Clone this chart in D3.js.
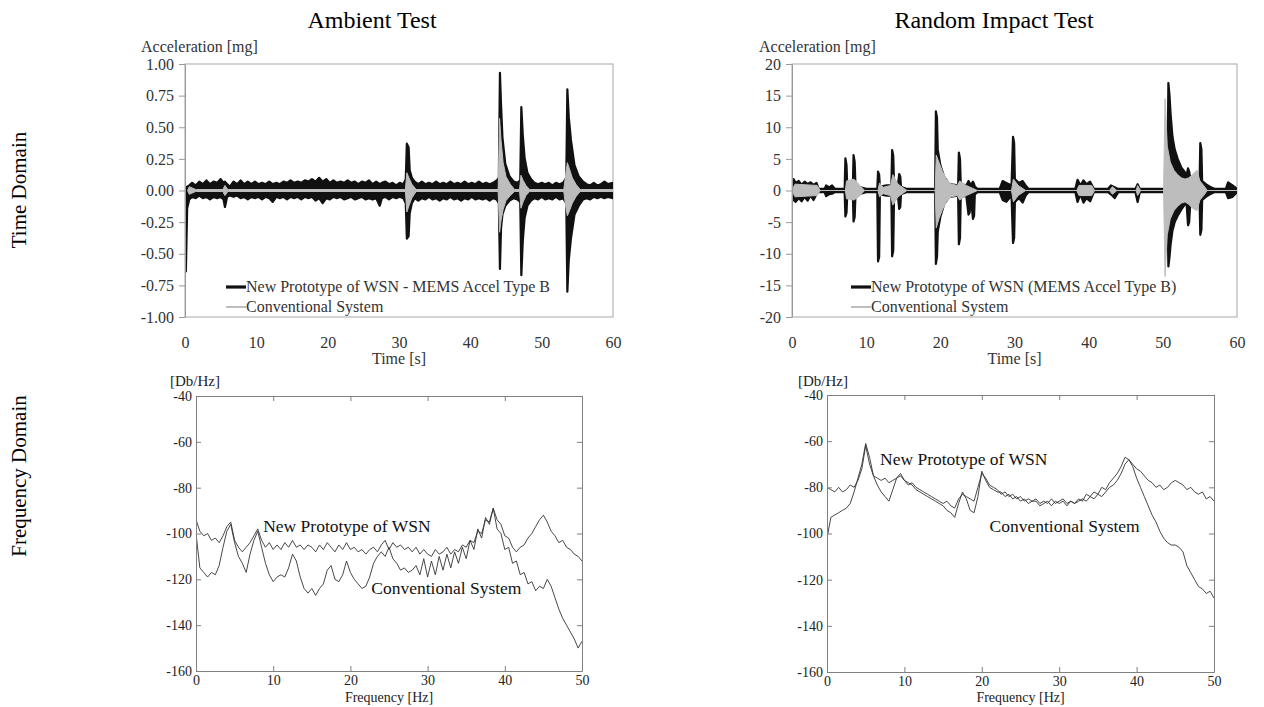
<!DOCTYPE html>
<html>
<head>
<meta charset="utf-8">
<script src="https://cdn.jsdelivr.net/npm/d3@7"></script>
<style>
  body { margin: 0; background: #fff; }
  svg { display: block; }
  text { font-family: "Liberation Serif", "Times New Roman", serif; }
</style>
</head>
<body>
<div id="chart"></div>
<script>
// ---- data ----
// time-domain signals are dense, so they are kept as envelopes: [time s, max, min]
const ambientWsn = [
  [0, 0.03, -0.05], [0.12, 0.02, -0.64], [0.3, 0.03, -0.14], [0.6, 0.04, -0.07], [1.0, 0.06, -0.05],
  [1.5, 0.04, -0.06], [2.0, 0.07, -0.04], [2.5, 0.05, -0.06], [3.0, 0.08, -0.05], [3.5, 0.05, -0.07],
  [4.0, 0.07, -0.05], [4.5, 0.06, -0.06], [5.0, 0.09, -0.05], [5.4, 0.06, -0.07], [5.6, 0.07, -0.13],
  [5.9, 0.05, -0.05], [6.3, 0.03, -0.04], [6.8, 0.07, -0.05], [7.3, 0.05, -0.04], [7.8, 0.08, -0.06],
  [8.3, 0.05, -0.05], [8.8, 0.07, -0.07], [9.3, 0.05, -0.05], [9.8, 0.07, -0.06], [10.3, 0.05, -0.05],
  [10.8, 0.06, -0.07], [11.3, 0.05, -0.05], [11.8, 0.07, -0.06], [12.3, 0.05, -0.09], [12.8, 0.06, -0.05],
  [13.3, 0.05, -0.06], [13.8, 0.07, -0.05], [14.3, 0.06, -0.07], [14.8, 0.08, -0.05], [15.3, 0.06, -0.06],
  [15.8, 0.07, -0.05], [16.3, 0.06, -0.07], [16.8, 0.08, -0.05], [17.3, 0.07, -0.06], [17.8, 0.09, -0.05],
  [18.3, 0.07, -0.08], [18.8, 0.10, -0.06], [19.3, 0.07, -0.10], [19.8, 0.09, -0.06], [20.3, 0.06, -0.07],
  [20.8, 0.08, -0.05], [21.3, 0.06, -0.06], [21.8, 0.07, -0.05], [22.3, 0.06, -0.07], [22.8, 0.08, -0.06],
  [23.3, 0.06, -0.05], [23.8, 0.07, -0.07], [24.3, 0.05, -0.06], [24.8, 0.07, -0.05], [25.3, 0.06, -0.07],
  [25.8, 0.08, -0.06], [26.3, 0.05, -0.07], [26.8, 0.07, -0.06], [27.3, 0.05, -0.12], [27.6, 0.06, -0.06],
  [28.1, 0.07, -0.05], [28.6, 0.05, -0.07], [29.1, 0.06, -0.05], [29.6, 0.04, -0.06], [30.1, 0.06, -0.05],
  [30.6, 0.05, -0.06], [30.95, 0.09, -0.10], [31.1, 0.37, -0.38], [31.35, 0.34, -0.36], [31.5, 0.16, -0.18],
  [31.8, 0.10, -0.10], [32.2, 0.07, -0.06], [32.7, 0.05, -0.08], [33.2, 0.07, -0.06], [33.7, 0.05, -0.07],
  [34.2, 0.06, -0.05], [34.7, 0.05, -0.07], [35.2, 0.07, -0.06], [35.7, 0.05, -0.08], [36.2, 0.06, -0.06],
  [36.7, 0.05, -0.07], [37.2, 0.07, -0.05], [37.7, 0.05, -0.07], [38.2, 0.06, -0.06], [38.7, 0.05, -0.08],
  [39.2, 0.07, -0.06], [39.7, 0.05, -0.07], [40.2, 0.06, -0.05], [40.7, 0.05, -0.07], [41.2, 0.07, -0.06],
  [41.7, 0.05, -0.07], [42.2, 0.06, -0.06], [42.7, 0.05, -0.08], [43.2, 0.06, -0.06], [43.7, 0.08, -0.07],
  [44.0, 0.10, -0.10], [44.15, 0.93, -0.62], [44.3, 0.68, -0.30], [44.5, 0.42, -0.19], [44.9, 0.21, -0.12],
  [45.5, 0.11, -0.08], [46.1, 0.07, -0.06], [46.6, 0.06, -0.07], [47.0, 0.08, -0.09], [47.15, 0.66, -0.67],
  [47.35, 0.44, -0.40], [47.6, 0.26, -0.22], [48.0, 0.14, -0.12], [48.5, 0.09, -0.08], [49.0, 0.06, -0.06],
  [49.5, 0.05, -0.07], [50.0, 0.06, -0.05], [50.5, 0.05, -0.07], [51.0, 0.06, -0.06], [51.5, 0.04, -0.07],
  [52.0, 0.06, -0.05], [52.5, 0.05, -0.07], [53.0, 0.06, -0.06], [53.45, 0.10, -0.10], [53.6, 0.80, -0.80],
  [53.8, 0.58, -0.55], [54.1, 0.40, -0.38], [54.6, 0.20, -0.19], [55.2, 0.11, -0.12], [55.8, 0.07, -0.07],
  [56.3, 0.05, -0.06], [56.8, 0.04, -0.07], [57.3, 0.06, -0.05], [57.8, 0.04, -0.06], [58.3, 0.05, -0.05],
  [58.8, 0.07, -0.06], [59.3, 0.05, -0.05], [60.0, 0.06, -0.06]
];
const ambientConv = [
  [0.4, 0.005, -0.005], [0.6, 0.03, -0.03], [1.5, 0.008, -0.008], [5.3, 0.008, -0.008], [5.6, 0.04, -0.04],
  [6.0, 0.008, -0.008], [30.9, 0.008, -0.008], [31.1, 0.14, -0.17], [31.4, 0.10, -0.12], [31.8, 0.05, -0.06],
  [32.4, 0.008, -0.008], [43.9, 0.008, -0.008], [44.1, 0.57, -0.33], [44.3, 0.40, -0.24], [44.6, 0.22, -0.15],
  [45.0, 0.11, -0.08], [45.6, 0.05, -0.04], [46.2, 0.008, -0.008], [46.9, 0.008, -0.008], [47.1, 0.12, -0.14],
  [47.4, 0.08, -0.09], [47.8, 0.04, -0.04], [48.3, 0.008, -0.008], [53.1, 0.008, -0.008], [53.35, 0.12, -0.12],
  [53.6, 0.22, -0.20], [53.9, 0.17, -0.16], [54.3, 0.10, -0.10], [54.8, 0.05, -0.05], [55.4, 0.008, -0.008],
  [60, 0.008, -0.008]
];
const impactWsn = [
  [0, 0.25, -0.25], [0.2, 1.8, -1.5], [0.5, 1.2, -1.8], [0.9, 1.5, -1.2], [1.3, 0.9, -1.7],
  [1.7, 1.4, -1.0], [2.1, 1.0, -1.6], [2.5, 1.3, -0.8], [2.9, 0.9, -1.5], [3.3, 1.2, -0.6],
  [3.6, 0.25, -0.25], [4.4, 0.25, -0.25], [4.6, 0.8, -0.9], [5.0, 0.5, -0.6], [5.4, 0.8, -0.5],
  [5.8, 0.25, -0.25], [7.1, 0.25, -0.25], [7.2, 5.1, -4.1], [7.35, 4.0, -3.5], [7.45, 0.8, -0.7],
  [8.2, 0.6, -0.6], [8.3, 5.6, -4.9], [8.45, 4.5, -4.2], [8.55, 1.0, -1.0], [9.0, 0.6, -0.6],
  [10.0, 0.25, -0.25], [11.5, 0.25, -0.25], [11.6, 3.0, -11.2], [11.75, 2.5, -10.5], [11.85, 0.6, -0.6],
  [12.8, 0.8, -0.8], [13.4, 0.8, -0.8], [13.5, 6.4, -10.4], [13.65, 5.5, -9.5], [13.75, 1.5, -1.5],
  [14.3, 1.0, -1.0], [14.45, 2.6, -2.9], [14.6, 2.2, -2.6], [14.7, 0.6, -0.6], [15.5, 0.25, -0.25],
  [19.3, 0.25, -0.25], [19.4, 12.5, -11.6], [19.55, 11.5, -10.5], [19.65, 6.5, -6.5], [20.0, 4.0, -4.2],
  [20.5, 2.2, -2.2], [21.2, 1.0, -1.0], [22.4, 0.8, -0.8], [22.5, 6.0, -8.5], [22.65, 5.0, -7.5],
  [22.75, 1.0, -1.0], [23.5, 0.8, -0.8], [23.8, 1.5, -3.8], [23.95, 1.2, -3.5], [24.1, 0.8, -1.0],
  [24.4, 1.4, -4.5], [24.55, 1.0, -4.0], [24.65, 0.6, -0.6], [25.0, 0.25, -0.25], [28.0, 0.25, -0.25],
  [28.4, 1.5, -1.5], [28.9, 1.2, -1.8], [29.6, 0.8, -0.8], [29.8, 8.5, -8.3], [29.95, 7.5, -7.5],
  [30.05, 1.8, -1.8], [30.6, 1.2, -1.2], [31.1, 1.5, -1.9], [31.5, 0.8, -0.8], [31.9, 0.25, -0.25],
  [38.2, 0.25, -0.25], [38.5, 1.7, -1.8], [38.9, 0.8, -0.6], [39.3, 1.6, -1.9], [39.7, 1.0, -1.2],
  [40.2, 1.4, -1.7], [40.7, 0.25, -0.25], [42.6, 0.25, -0.25], [43.0, 0.8, -0.6], [43.5, 0.5, -1.2],
  [44.0, 0.25, -0.25], [46.3, 0.25, -0.25], [46.6, 1.0, -1.8], [46.9, 0.25, -0.25], [50.6, 0.25, -0.25],
  [50.75, 17.0, -12.0], [50.9, 15.0, -10.5], [51.05, 12.0, -8.5], [51.3, 8.5, -6.3], [51.6, 6.5, -5.0],
  [52.0, 5.0, -4.0], [52.5, 3.6, -3.0], [52.9, 3.0, -2.3], [53.2, 2.5, -2.0], [53.4, 3.5, -5.5],
  [53.55, 3.0, -5.0], [53.7, 2.0, -2.0], [54.2, 1.5, -1.5], [54.7, 1.2, -1.0], [54.95, 1.0, -1.0],
  [55.05, 7.5, -7.0], [55.2, 6.5, -6.2], [55.3, 1.5, -1.5], [55.8, 1.0, -1.0], [56.5, 0.5, -0.5],
  [57.0, 0.25, -0.25], [58.5, 0.25, -0.25], [58.8, 1.3, -1.2], [59.4, 0.8, -1.0], [60.0, 0.25, -0.25]
];
const impactConv = [
  [0, 0, 0], [0.4, 1.0, -1.0], [3.4, 0.8, -0.8], [3.8, 0, 0], [7.2, 0, 0],
  [7.35, 1.5, -1.3], [8.35, 1.8, -1.5], [9.0, 1.0, -1.0], [9.8, 0, 0], [11.6, 0, 0],
  [11.8, 1.2, -1.0], [12.3, 0.5, -0.5], [13.3, 0.8, -0.8], [13.6, 2.5, -2.3], [14.3, 1.0, -1.0],
  [15.5, 0, 0], [19.3, 0, 0], [19.45, 5.6, -5.9], [19.8, 4.5, -4.5], [20.3, 3.0, -3.0],
  [20.8, 1.8, -1.8], [21.5, 1.0, -1.0], [22.3, 0.8, -0.8], [22.6, 1.5, -1.5], [23.5, 0.8, -0.8],
  [25.0, 0, 0], [29.6, 0, 0], [29.85, 1.8, -1.8], [30.5, 0.8, -0.8], [31.5, 0, 0],
  [38.4, 0, 0], [38.7, 0.8, -0.8], [40.4, 0.8, -0.8], [40.8, 0, 0], [42.8, 0, 0],
  [43.2, 0.6, -0.6], [43.8, 0, 0], [46.4, 0, 0], [46.6, 0.8, -0.8], [47.0, 0, 0],
  [50.1, 0, 0], [50.3, 14.5, -13.6], [50.6, 7.0, -7.0], [51.0, 4.5, -4.5], [51.5, 3.2, -3.2],
  [52.0, 2.5, -2.5], [52.5, 2.0, -2.0], [53.0, 1.8, -1.8], [53.5, 2.0, -2.2], [54.0, 2.5, -2.8],
  [54.6, 3.2, -3.2], [55.0, 1.5, -1.5], [55.5, 0.8, -0.8], [56.0, 0, 0], [60.0, 0, 0]
];

// spectra, one value every 0.5 Hz from 0 to 50 Hz
const ambientWsnDb = [
  -94, -99, -101, -100, -103, -102, -104, -101, -97, -95,
  -103, -106, -108, -106, -104, -101, -98, -103, -106, -104,
  -107, -105, -107, -104, -106, -103, -106, -105, -107, -105,
  -106, -108, -105, -107, -104, -106, -108, -105, -107, -104,
  -107, -106, -108, -107, -109, -107, -106, -108, -105, -103,
  -107, -104, -106, -105, -107, -106, -108, -106, -109, -107,
  -109, -110, -107, -109, -108, -106, -109, -107, -108, -105,
  -106, -103, -104, -99, -100, -94, -95, -89, -94, -96,
  -101, -102, -106, -108, -106, -105, -102, -100, -97, -94,
  -92, -95, -99, -101, -104, -103, -106, -107, -109, -110,
  -112
];
const ambientConvDb = [
  -100, -115, -117, -119, -117, -118, -114, -106, -99, -96,
  -104, -110, -113, -117, -109, -103, -99, -106, -113, -118,
  -121, -119, -118, -119, -115, -109, -112, -119, -124, -126,
  -124, -127, -124, -122, -116, -114, -120, -121, -118, -112,
  -117, -120, -122, -124, -123, -119, -113, -110, -108, -110,
  -106, -111, -113, -116, -115, -117, -116, -114, -118, -111,
  -119, -112, -118, -110, -116, -109, -115, -108, -113, -106,
  -111, -103, -107, -98, -102, -93, -96, -89, -98, -100,
  -107, -106, -113, -112, -118, -117, -122, -121, -125, -123,
  -124, -120, -123, -128, -133, -137, -140, -143, -146, -150,
  -147
];
const impactWsnDb = [
  -80, -81, -82, -80, -82, -81, -79, -80, -77, -72,
  -62, -70, -75, -76, -77, -76, -78, -77, -76, -75,
  -77, -79, -78, -80, -81, -82, -83, -84, -85, -86,
  -87, -86, -88, -89, -85, -83, -84, -85, -86, -80,
  -74, -76, -79, -80, -81, -83, -82, -84, -83, -85,
  -84, -86, -85, -86, -85, -87, -86, -87, -85, -87,
  -86, -85, -87, -86, -87, -85, -86, -83, -84, -82,
  -83, -80, -81, -78, -76, -74, -71, -67, -68, -70,
  -72, -73, -75, -77, -78, -80, -79, -81, -80, -78,
  -77, -78, -79, -81, -80, -82, -83, -82, -85, -84,
  -86
];
const impactConvDb = [
  -102, -93, -92, -91, -90, -89, -87, -82, -76, -70,
  -61, -67, -75, -79, -82, -84, -86, -81, -76, -74,
  -77, -78, -79, -81, -82, -83, -84, -85, -86, -87,
  -88, -90, -91, -93, -87, -82, -85, -90, -91, -84,
  -73, -77, -80, -81, -82, -82, -84, -83, -85, -84,
  -86, -85, -87, -86, -86, -88, -87, -86, -88, -86,
  -87, -86, -88, -86, -87, -86, -85, -86, -84, -85,
  -83, -84, -82, -80, -79, -77, -74, -70, -68, -71,
  -76, -80, -84, -88, -92, -95, -99, -102, -104, -105,
  -105, -106, -108, -114, -117, -120, -123, -124, -126, -125,
  -128
];

const timeTicks = [0, 10, 20, 30, 40, 50, 60];
const ambientTicks = [-1, -0.75, -0.5, -0.25, 0, 0.25, 0.5, 0.75, 1];
const impactTicks = [-20, -15, -10, -5, 0, 5, 10, 15, 20];
const freqTicks = [0, 10, 20, 30, 40, 50];
const dbTicks = [-160, -140, -120, -100, -80, -60, -40];

const width = 1264;
const height = 707;
const serif = "'Liberation Serif', 'Times New Roman', serif";
const black = "#111";
const grey = "#bdbdbd";
const specColor = "#333";

// plain hyphen for negatives, as in the figure
const hyphen = (fmt) => (d) => fmt(d).replace("\u2212", "-");

const svg = d3.select("#chart").append("svg")
  .attr("width", width)
  .attr("height", height)
  .attr("font-family", serif);

// titles and row labels
svg.append("text").attr("x", 372).attr("y", 28).attr("text-anchor", "middle")
  .attr("font-size", 24).attr("fill", "#000").text("Ambient Test");
svg.append("text").attr("x", 994).attr("y", 28).attr("text-anchor", "middle")
  .attr("font-size", 24).attr("fill", "#000").text("Random Impact Test");
svg.append("text").attr("transform", "translate(26,190) rotate(-90)").attr("text-anchor", "middle")
  .attr("font-size", 21).attr("fill", "#000").text("Time Domain");
svg.append("text").attr("transform", "translate(26,476) rotate(-90)").attr("text-anchor", "middle")
  .attr("font-size", 21).attr("fill", "#000").text("Frequency Domain");

let clipId = 0;
function addClip(l, t, r, b) {
  const id = "clip" + (clipId++);
  svg.append("clipPath").attr("id", id)
    .append("rect").attr("x", l).attr("y", t).attr("width", r - l).attr("height", b - t);
  return `url(#${id})`;
}

function drawTimePanel(p) {
  const x = d3.scaleLinear().domain([0, 60]).range([p.left, p.right]);
  const y = d3.scaleLinear().domain([p.ticks[0], p.ticks[p.ticks.length - 1]]).range([p.bottom, p.top]);
  const g = svg.append("g");

  g.append("rect")
    .attr("x", p.left).attr("y", p.top)
    .attr("width", p.right - p.left).attr("height", p.bottom - p.top)
    .attr("fill", "none").attr("stroke", "#a8a8a8");

  const area = d3.area()
    .x((d) => x(d[0]))
    .y0((d) => y(d[2]))
    .y1((d) => y(d[1]));

  const plot = g.append("g").attr("clip-path", addClip(p.left, p.top, p.right, p.bottom));
  plot.append("path").datum(p.wsn).attr("d", area)
    .attr("fill", black).attr("stroke", black).attr("stroke-width", 2.2).attr("stroke-linejoin", "round");
  plot.append("path").datum(p.conv).attr("d", area)
    .attr("fill", grey).attr("stroke", grey).attr("stroke-width", 1).attr("stroke-linejoin", "round");

  const yAxis = g.append("g")
    .attr("transform", `translate(${p.left},0)`)
    .call(d3.axisLeft(y).tickValues(p.ticks).tickFormat(hyphen(p.format)).tickSize(6).tickSizeOuter(0).tickPadding(5))
    .attr("font-family", serif).attr("font-size", 16);
  yAxis.select(".domain").attr("stroke", "#999");
  yAxis.selectAll(".tick line").attr("stroke", "#999");
  yAxis.selectAll("text").attr("fill", "#333").attr("font-family", serif);

  const xAxis = g.append("g")
    .attr("transform", `translate(0,${p.bottom})`)
    .call(d3.axisBottom(x).tickValues(timeTicks).tickSize(0).tickPadding(20))
    .attr("font-family", serif).attr("font-size", 16);
  xAxis.select(".domain").remove();
  xAxis.selectAll("text").attr("fill", "#333").attr("font-family", serif);

  g.append("text").attr("x", (p.left + p.right) / 2).attr("y", 364)
    .attr("text-anchor", "middle").attr("font-size", 16).attr("fill", "#333").text("Time [s]");
  g.append("text").attr("x", p.labelX).attr("y", 52)
    .attr("font-size", 16).attr("fill", "#333").text("Acceleration [mg]");

  // legend
  const legend = g.append("g").attr("transform", `translate(${p.legendX},0)`);
  const items = [
    { name: p.wsnName, color: black, w: 3.2, y: 287 },
    { name: "Conventional System", color: grey, w: 2, y: 307 }
  ];
  items.forEach((it) => {
    legend.append("line").attr("x1", 0).attr("x2", 20).attr("y1", it.y).attr("y2", it.y)
      .attr("stroke", it.color).attr("stroke-width", it.w);
    legend.append("text").attr("x", 20).attr("y", it.y + 5)
      .attr("font-size", 16).attr("fill", "#333").text(it.name);
  });
}

function drawFreqPanel(p) {
  const x = d3.scaleLinear().domain([0, 50]).range([p.left, p.right]);
  const y = d3.scaleLinear().domain([-160, -40]).range([p.bottom, p.top]);
  const freq = d3.range(0, 50.25, 0.5);
  const g = svg.append("g");

  const line = d3.line()
    .x((d, i) => x(freq[i]))
    .y((d) => y(d));

  const plot = g.append("g").attr("clip-path", addClip(p.left, p.top, p.right, p.bottom));
  [p.conv, p.wsn].forEach((series) => {
    plot.append("path").datum(series).attr("d", line)
      .attr("fill", "none").attr("stroke", specColor).attr("stroke-width", 0.9).attr("stroke-linejoin", "round");
  });

  const styleAxis = (sel) => {
    sel.attr("font-family", serif).attr("font-size", 14);
    sel.select(".domain").attr("stroke", "#808080");
    sel.selectAll(".tick line").attr("stroke", "#808080");
    sel.selectAll("text").attr("fill", "#222").attr("font-family", serif);
  };

  g.append("g").attr("transform", `translate(${p.left},0)`)
    .call(d3.axisLeft(y).tickValues(dbTicks).tickFormat(hyphen(d3.format("d"))).tickSizeInner(-5).tickSizeOuter(0).tickPadding(4))
    .call(styleAxis);
  g.append("g").attr("transform", `translate(${p.right},0)`)
    .call(d3.axisRight(y).tickValues(dbTicks).tickSizeInner(-5).tickSizeOuter(0).tickFormat(""))
    .call(styleAxis);
  g.append("g").attr("transform", `translate(0,${p.bottom})`)
    .call(d3.axisBottom(x).tickValues(freqTicks).tickSizeInner(-5).tickSizeOuter(0).tickPadding(4))
    .call(styleAxis);
  g.append("g").attr("transform", `translate(0,${p.top})`)
    .call(d3.axisTop(x).tickValues(freqTicks).tickSizeInner(-5).tickSizeOuter(0).tickFormat(""))
    .call(styleAxis);

  g.append("text").attr("x", (p.left + p.right) / 2).attr("y", 702)
    .attr("text-anchor", "middle").attr("font-size", 14).attr("fill", "#222").text("Frequency [Hz]");
  g.append("text").attr("x", p.unitX).attr("y", 386)
    .attr("font-size", 15).attr("fill", "#222").text("[Db/Hz]");

  g.append("text").attr("x", x(p.wsnLabel[0])).attr("y", y(p.wsnLabel[1]))
    .attr("font-size", 17.5).attr("fill", "#111").text("New Prototype of WSN");
  g.append("text").attr("x", x(p.convLabel[0])).attr("y", y(p.convLabel[1]))
    .attr("font-size", 17.5).attr("fill", "#111").text("Conventional System");
}

drawTimePanel({
  left: 185, right: 613, top: 64, bottom: 317,
  ticks: ambientTicks, format: d3.format(".2f"),
  wsn: ambientWsn, conv: ambientConv,
  labelX: 141, legendX: 226,
  wsnName: "New Prototype of WSN - MEMS Accel Type B"
});
drawTimePanel({
  left: 792, right: 1237, top: 64, bottom: 317,
  ticks: impactTicks, format: d3.format("d"),
  wsn: impactWsn, conv: impactConv,
  labelX: 759, legendX: 851,
  wsnName: "New Prototype of WSN (MEMS Accel Type B)"
});
drawFreqPanel({
  left: 196, right: 582, top: 396, bottom: 671,
  wsn: ambientWsnDb, conv: ambientConvDb,
  unitX: 170,
  wsnLabel: [8.7, -99.5], convLabel: [22.7, -126.4]
});
drawFreqPanel({
  left: 827, right: 1214, top: 395, bottom: 672,
  wsn: impactWsnDb, conv: impactConvDb,
  unitX: 798,
  wsnLabel: [6.85, -70.3], convLabel: [21, -99.4]
});
</script>
</body>
</html>
